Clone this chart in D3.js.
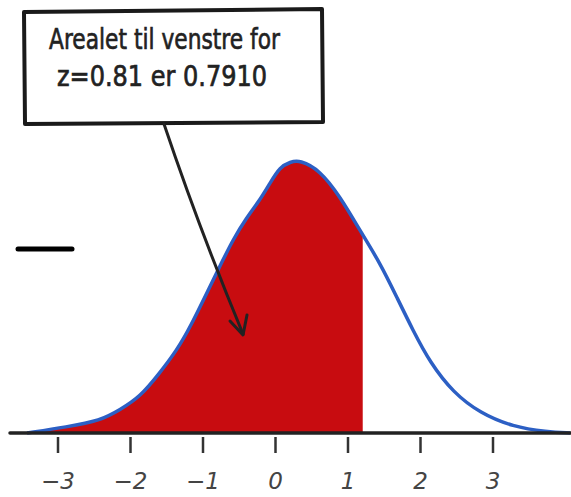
<!DOCTYPE html>
<html>
<head>
<meta charset="utf-8">
<script src="https://cdn.jsdelivr.net/npm/d3@7"></script>
<style>
  body { margin: 0; background: #fff; }
  svg { display: block; }
</style>
</head>
<body>
<svg width="571" height="497"></svg>
<script>
// kurvepunkter lest av bildet (z, tetthet)
var zVals = [-3.42, -2.87, -2.41, -2.14, -1.86, -1.59, -1.35, -1.17, -0.90, -0.72, -0.58, -0.39, -0.21, -0.07, 0.07, 0.21, 0.34, 0.62, 0.90, 1.17, 1.45, 1.68, 1.90, 2.14, 2.46, 2.83, 3.28, 3.75, 4.07];
var density = [0, 0.009, 0.018, 0.034, 0.053, 0.088, 0.122, 0.155, 0.214, 0.253, 0.283, 0.316, 0.341, 0.366, 0.390, 0.397, 0.400, 0.385, 0.346, 0.297, 0.249, 0.199, 0.151, 0.103, 0.059, 0.029, 0.009, 0.0015, 0];
var tickValues = [-3, -2, -1, 0, 1, 2, 3];
var cutZ = 1.21;
var noteLines = ["Arealet til venstre for", "z=0.81 er 0.7910"];

var svg = d3.select("svg");
var axisY = 433;

var x = d3.scaleLinear().domain([0, 1]).range([275, 347.5]);
var y = d3.scaleLinear().domain([0, 0.4]).range([axisY, 160]);

var pts = zVals.map(function(z, i) { return {z: z, d: density[i]}; });

// klipp for skravert område
svg.append("defs").append("clipPath")
    .attr("id", "venstre")
  .append("rect")
    .attr("x", 0)
    .attr("y", 0)
    .attr("width", x(cutZ))
    .attr("height", axisY);

var area = d3.area()
    .x(function(d) { return x(d.z); })
    .y0(axisY)
    .y1(function(d) { return y(d.d); })
    .curve(d3.curveBasis);

var line = d3.line()
    .x(function(d) { return x(d.z); })
    .y(function(d) { return y(d.d); })
    .curve(d3.curveBasis);

svg.append("path")
    .datum(pts)
    .attr("d", area)
    .attr("fill", "#c80c10")
    .attr("clip-path", "url(#venstre)");

svg.append("path")
    .datum(pts)
    .attr("d", line)
    .attr("fill", "none")
    .attr("stroke", "#2c5fc4")
    .attr("stroke-width", 3.5)
    .attr("stroke-linejoin", "round");

// akse
var axis = d3.axisBottom(x)
    .tickValues(tickValues)
    .tickSize(20)
    .tickPadding(20)
    .tickFormat(function(d) { return d < 0 ? "\u2212" + Math.abs(d) : d; });

var gx = svg.append("g")
    .attr("transform", "translate(0," + axisY + ")")
    .call(axis);

gx.select(".domain").remove();
gx.selectAll(".tick line")
    .attr("stroke", "#333")
    .attr("stroke-width", 2.5)
    .attr("y1", 4);
gx.selectAll(".tick text")
    .attr("fill", "#444")
    .attr("font-family", "DejaVu Sans")
    .attr("font-style", "italic")
    .attr("font-size", 23);

svg.append("line")
    .attr("x1", 10).attr("x2", 571)
    .attr("y1", axisY).attr("y2", axisY)
    .attr("stroke", "#222")
    .attr("stroke-width", 3.5)
    .attr("stroke-linecap", "round");

// strek til venstre
svg.append("line")
    .attr("x1", 18).attr("x2", 72)
    .attr("y1", 249).attr("y2", 249)
    .attr("stroke", "#000")
    .attr("stroke-width", 5)
    .attr("stroke-linecap", "round");

// tekstboks
svg.append("path")
    .attr("d", "M24,12 L322,9 L323,122 L25,124 Z")
    .attr("fill", "#fff")
    .attr("stroke", "#1a1a1a")
    .attr("stroke-width", 4)
    .attr("stroke-linejoin", "round");

svg.selectAll(".note")
    .data(noteLines)
    .enter().append("text")
    .attr("class", "note")
    .attr("x", function(d, i) { return i == 0 ? 49 : 57; })
    .attr("y", function(d, i) { return i == 0 ? 49 : 86; })
    .attr("font-family", "DejaVu Sans")
    .attr("font-size", 28)
    .attr("fill", "#222")
    .attr("stroke", "#222")
    .attr("stroke-width", 0.7)
    .attr("textLength", function(d, i) { return i == 0 ? 231 : 210; })
    .attr("lengthAdjust", "spacingAndGlyphs")
    .text(function(d) { return d; });

// pil
svg.append("path")
    .attr("d", "M164,124 Q199,228 243,334")
    .attr("fill", "none")
    .attr("stroke", "#222")
    .attr("stroke-width", 3)
    .attr("stroke-linecap", "round");

svg.append("path")
    .attr("d", "M230,321 L243,335 L247,315")
    .attr("fill", "none")
    .attr("stroke", "#222")
    .attr("stroke-width", 3)
    .attr("stroke-linecap", "round")
    .attr("stroke-linejoin", "round");
</script>
</body>
</html>
